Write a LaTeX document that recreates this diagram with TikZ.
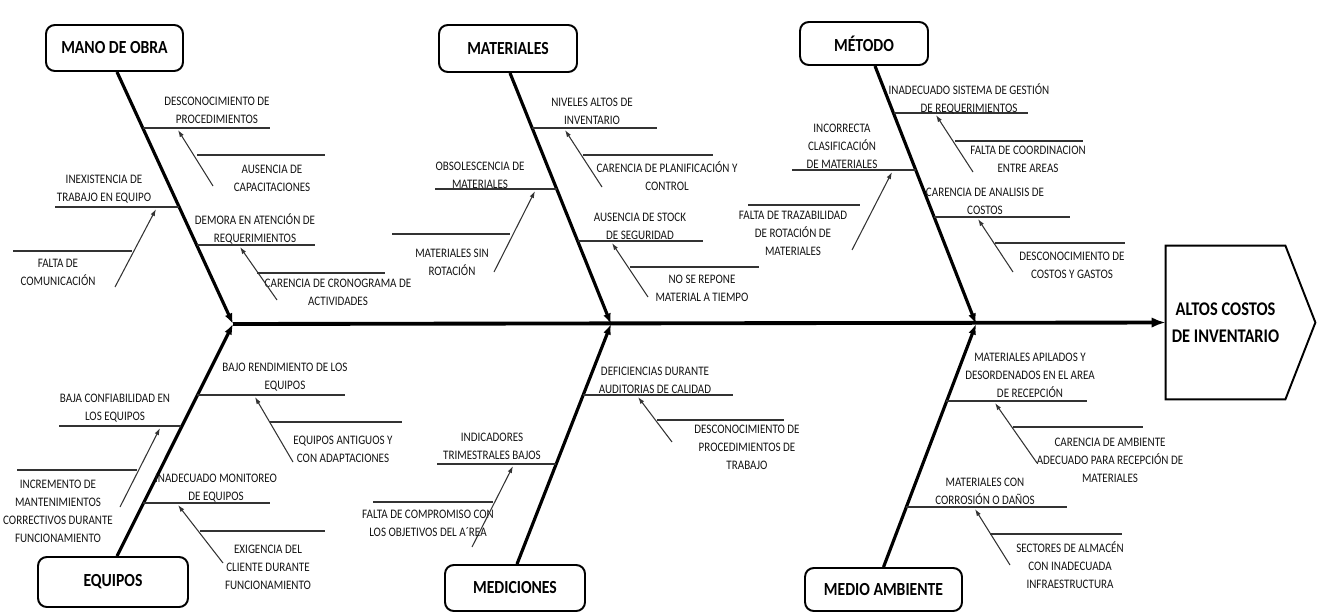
\documentclass[tikz,border=0pt]{standalone}
\usepackage{fontspec}
\setmainfont{Carlito}[FakeStretch=0.85]
\usetikzlibrary{positioning, arrows.meta}

\begin{document}
\begin{tikzpicture}[
        x=0.02cm, y=-0.02cm,
        categoria/.style={rectangle, draw=black, line width=1.1pt, rounded corners=5pt, align=center, fill=white, font=\fontsize{10.5}{12}\selectfont\bfseries},
        texto/.style={align=center, inner sep=0pt, text=black!92, font=\fontsize{7.4}{10.2}\selectfont},
        causa/.style={draw=black!80, line width=0.7pt},
        espina/.style={draw=black, line width=1.8pt, -{Latex[length=6pt, width=4.5pt]}},
        subflecha/.style={draw=black!80, line width=0.6pt, -{Latex[length=4pt, width=2.6pt]}}
    ]
    \useasboundingbox (0,0) rectangle (1317,612);

    % CATEGORÍAS
    \node[categoria, minimum width=2.74cm, minimum height=0.92cm] (mano) at (114.5,48) {MANO DE OBRA};
    \node[categoria, minimum width=2.76cm, minimum height=0.94cm] (mate) at (508,48.5) {MATERIALES};
    \node[categoria, minimum width=2.56cm, minimum height=0.86cm] (meto) at (864,43.5) {MÉTODO};
    \node[categoria, minimum width=3cm, minimum height=1cm] (equi) at (113,582) {EQUIPOS};
    \node[categoria, minimum width=2.8cm, minimum height=0.92cm] (medi) at (515,588) {MEDICIONES};
    \node[categoria, minimum width=3.14cm, minimum height=0.86cm] (ambi) at (883.5,589.5) {MEDIO AMBIENTE};

    % EFECTO
    \node[rectangle, minimum width=2.26cm, minimum height=3.06cm, align=center, font=\fontsize{11}{15.5}\selectfont\bfseries] (efecto) at (1225.5,322.5) {ALTOS COSTOS\\DE INVENTARIO};
    \draw[line width=1.1pt, line join=miter] (efecto.north east) -- (efecto.north west) -- (efecto.south west) -- (efecto.south east) -- ([xshift=0.6cm]efecto.east) -- cycle;

    % Espina central
    \coordinate (nudo1) at (233,324);
    \coordinate (nudo2) at (611,324);
    \coordinate (nudo3) at (976,324);
    \draw[line width=2.2pt, -{Latex[length=8pt, width=6pt]}] (nudo1) -- (efecto.west);
    \draw[espina] ([xshift=0.05cm]mano.south) -- (nudo1);
    \draw[espina] ([xshift=0.04cm]mate.south) -- (nudo2);
    \draw[espina] ([xshift=0.22cm]meto.south) -- (nudo3);
    \draw[espina] ([xshift=0.08cm]equi.north) -- (nudo1);
    \draw[espina] ([xshift=0.04cm]medi.north) -- (nudo2);
    \draw[espina] (ambi.north) -- (nudo3);

    % MANO DE OBRA
    \coordinate (desc-a) at (143,128); \coordinate (desc-b) at (270,128);
    \draw[causa] (desc-a) -- (desc-b);
    \node[texto] (desc) at (217,110) {DESCONOCIMIENTO DE\\PROCEDIMIENTOS};
    \coordinate (ausc-a) at (197,155); \coordinate (ausc-b) at (325,155);
    \coordinate (ausc-f) at (213,186); \coordinate (ausc-p) at (178,130);
    \draw[causa] (ausc-a) -- (ausc-b);
    \node[texto] (ausc) at (272,178) {AUSENCIA DE\\CAPACITACIONES};
    \draw[subflecha] (ausc-f) -- (ausc-p);
    \coordinate (demo-a) at (197,245); \coordinate (demo-b) at (315,245);
    \draw[causa] (demo-a) -- (demo-b);
    \node[texto] (demo) at (255,229) {DEMORA EN ATENCIÓN DE\\REQUERIMIENTOS};
    \coordinate (cron-a) at (257,273); \coordinate (cron-b) at (385,273);
    \coordinate (cron-f) at (277,300); \coordinate (cron-p) at (240,247);
    \draw[causa] (cron-a) -- (cron-b);
    \node[texto] (cron) at (338,292) {CARENCIA DE CRONOGRAMA DE\\ACTIVIDADES};
    \draw[subflecha] (cron-f) -- (cron-p);
    \coordinate (inex-a) at (55,207); \coordinate (inex-b) at (179,207);
    \draw[causa] (inex-a) -- (inex-b);
    \node[texto] (inex) at (104,189) {INEXISTENCIA DE\\TRABAJO EN EQUIPO};
    \coordinate (comu-a) at (13,251); \coordinate (comu-b) at (132,251);
    \coordinate (comu-f) at (115,287); \coordinate (comu-p) at (156,209);
    \draw[causa] (comu-a) -- (comu-b);
    \node[texto] (comu) at (58,272) {FALTA DE\\COMUNICACIÓN};
    \draw[subflecha] (comu-f) -- (comu-p);

    % MATERIALES
    \coordinate (nive-a) at (532,128); \coordinate (nive-b) at (657,128);
    \draw[causa] (nive-a) -- (nive-b);
    \node[texto] (nive) at (592,111) {NIVELES ALTOS DE\\INVENTARIO};
    \coordinate (plan-a) at (583,155); \coordinate (plan-b) at (713,155);
    \coordinate (plan-f) at (602,187); \coordinate (plan-p) at (565,130);
    \draw[causa] (plan-a) -- (plan-b);
    \node[texto] (plan) at (667,176) {CARENCIA DE PLANIFICACIÓN Y\\CONTROL};
    \draw[subflecha] (plan-f) -- (plan-p);
    \coordinate (stoc-a) at (578,241); \coordinate (stoc-b) at (703,241);
    \draw[causa] (stoc-a) -- (stoc-b);
    \node[texto] (stoc) at (640,226) {AUSENCIA DE STOCK\\DE SEGURIDAD};
    \coordinate (repo-a) at (630,267); \coordinate (repo-b) at (759,267);
    \coordinate (repo-f) at (648,297); \coordinate (repo-p) at (612,243);
    \draw[causa] (repo-a) -- (repo-b);
    \node[texto] (repo) at (702,288) {NO SE REPONE\\MATERIAL A TIEMPO};
    \draw[subflecha] (repo-f) -- (repo-p);
    \coordinate (obso-a) at (435,189); \coordinate (obso-b) at (557,189);
    \draw[causa] (obso-a) -- (obso-b);
    \node[texto] (obso) at (480,175) {OBSOLESCENCIA DE\\MATERIALES};
    \coordinate (rota-a) at (392,234); \coordinate (rota-b) at (510,234);
    \coordinate (rota-f) at (494,272); \coordinate (rota-p) at (535,191);
    \draw[causa] (rota-a) -- (rota-b);
    \node[texto] (rota) at (452,262) {MATERIALES SIN\\ROTACIÓN};
    \draw[subflecha] (rota-f) -- (rota-p);

    % MÉTODO
    \coordinate (gest-a) at (894,113); \coordinate (gest-b) at (1028,113);
    \draw[causa] (gest-a) -- (gest-b);
    \node[texto] (gest) at (969,99) {INADECUADO SISTEMA DE GESTIÓN\\DE REQUERIMIENTOS};
    \coordinate (coor-a) at (955,141); \coordinate (coor-b) at (1083,141);
    \coordinate (coor-f) at (973,172); \coordinate (coor-p) at (936,115);
    \draw[causa] (coor-a) -- (coor-b);
    \node[texto] (coor) at (1028,159) {FALTA DE COORDINACION\\ENTRE AREAS};
    \draw[subflecha] (coor-f) -- (coor-p);
    \coordinate (anal-a) at (934,217); \coordinate (anal-b) at (1070,217);
    \draw[causa] (anal-a) -- (anal-b);
    \node[texto] (anal) at (985,201) {CARENCIA DE ANALISIS DE\\COSTOS};
    \coordinate (gast-a) at (995,243); \coordinate (gast-b) at (1125,243);
    \coordinate (gast-f) at (1013,272); \coordinate (gast-p) at (978,219);
    \draw[causa] (gast-a) -- (gast-b);
    \node[texto] (gast) at (1072,265) {DESCONOCIMIENTO DE\\COSTOS Y GASTOS};
    \draw[subflecha] (gast-f) -- (gast-p);
    \coordinate (clas-a) at (792,170); \coordinate (clas-b) at (916,170);
    \draw[causa] (clas-a) -- (clas-b);
    \node[texto] (clas) at (842,146) {INCORRECTA\\CLASIFICACIÓN\\DE MATERIALES};
    \coordinate (traz-a) at (748,205); \coordinate (traz-b) at (860,205);
    \coordinate (traz-f) at (852,250); \coordinate (traz-p) at (892,172);
    \draw[causa] (traz-a) -- (traz-b);
    \node[texto] (traz) at (793,233) {FALTA DE TRAZABILIDAD\\DE ROTACIÓN DE\\MATERIALES};
    \draw[subflecha] (traz-f) -- (traz-p);

    % EQUIPOS
    \coordinate (rend-a) at (197,395); \coordinate (rend-b) at (345,395);
    \draw[causa] (rend-a) -- (rend-b);
    \node[texto] (rend) at (285,377) {BAJO RENDIMIENTO DE LOS\\EQUIPOS};
    \coordinate (anti-a) at (270,422); \coordinate (anti-b) at (402,422);
    \coordinate (anti-f) at (293,462); \coordinate (anti-p) at (255,397);
    \draw[causa] (anti-a) -- (anti-b);
    \node[texto] (anti) at (343,449) {EQUIPOS ANTIGUOS Y\\CON ADAPTACIONES};
    \draw[subflecha] (anti-f) -- (anti-p);
    \coordinate (moni-a) at (143,503); \coordinate (moni-b) at (270,503);
    \draw[causa] (moni-a) -- (moni-b);
    \node[texto] (moni) at (216,488) {INADECUADO MONITOREO\\DE EQUIPOS};
    \coordinate (exig-a) at (200,531); \coordinate (exig-b) at (325,531);
    \coordinate (exig-f) at (223,563); \coordinate (exig-p) at (178,505);
    \draw[causa] (exig-a) -- (exig-b);
    \node[texto] (exig) at (268,567) {EXIGENCIA DEL\\CLIENTE DURANTE\\FUNCIONAMIENTO};
    \draw[subflecha] (exig-f) -- (exig-p);
    \coordinate (conf-a) at (59,426); \coordinate (conf-b) at (181,426);
    \draw[causa] (conf-a) -- (conf-b);
    \node[texto] (conf) at (115,408) {BAJA CONFIABILIDAD EN\\LOS EQUIPOS};
    \coordinate (mant-a) at (17,470); \coordinate (mant-b) at (137,470);
    \coordinate (mant-f) at (120,507); \coordinate (mant-p) at (160,428);
    \draw[causa] (mant-a) -- (mant-b);
    \node[texto] (mant) at (58,511) {INCREMENTO DE\\MANTENIMIENTOS\\CORRECTIVOS DURANTE\\FUNCIONAMIENTO};
    \draw[subflecha] (mant-f) -- (mant-p);

    % MEDICIONES
    \coordinate (audi-a) at (583,395); \coordinate (audi-b) at (733,395);
    \draw[causa] (audi-a) -- (audi-b);
    \node[texto] (audi) at (655,380) {DEFICIENCIAS DURANTE\\AUDITORIAS DE CALIDAD};
    \coordinate (proc-a) at (657,420); \coordinate (proc-b) at (784,420);
    \coordinate (proc-f) at (672,442); \coordinate (proc-p) at (638,397);
    \draw[causa] (proc-a) -- (proc-b);
    \node[texto] (proc) at (747,447) {DESCONOCIMIENTO DE\\PROCEDIMIENTOS DE\\TRABAJO};
    \draw[subflecha] (proc-f) -- (proc-p);
    \coordinate (indi-a) at (437,464); \coordinate (indi-b) at (556,464);
    \draw[causa] (indi-a) -- (indi-b);
    \node[texto] (indi) at (492,446) {INDICADORES\\TRIMESTRALES BAJOS};
    \coordinate (comp-a) at (373,502); \coordinate (comp-b) at (493,502);
    \coordinate (comp-f) at (472,547); \coordinate (comp-p) at (513,466);
    \draw[causa] (comp-a) -- (comp-b);
    \node[texto] (comp) at (428,523) {FALTA DE COMPROMISO CON\\LOS OBJETIVOS DEL A´REA};
    \draw[subflecha] (comp-f) -- (comp-p);

    % MEDIO AMBIENTE
    \coordinate (apil-a) at (946,401); \coordinate (apil-b) at (1087,401);
    \draw[causa] (apil-a) -- (apil-b);
    \node[texto] (apil) at (1030,375) {MATERIALES APILADOS Y\\DESORDENADOS EN EL AREA\\DE RECEPCIÓN};
    \coordinate (recp-a) at (1013,427); \coordinate (recp-b) at (1143,427);
    \coordinate (recp-f) at (1037,463); \coordinate (recp-p) at (995,403);
    \draw[causa] (recp-a) -- (recp-b);
    \node[texto] (recp) at (1110,460) {CARENCIA DE AMBIENTE\\ADECUADO PARA RECEPCIÓN DE\\MATERIALES};
    \draw[subflecha] (recp-f) -- (recp-p);
    \coordinate (corr-a) at (906,507); \coordinate (corr-b) at (1067,507);
    \draw[causa] (corr-a) -- (corr-b);
    \node[texto] (corr) at (985,491) {MATERIALES CON\\CORROSIÓN O DAÑOS};
    \coordinate (sect-a) at (990,534); \coordinate (sect-b) at (1122,534);
    \coordinate (sect-f) at (1010,565); \coordinate (sect-p) at (975,509);
    \draw[causa] (sect-a) -- (sect-b);
    \node[texto] (sect) at (1070,565) {SECTORES DE ALMACÉN\\CON INADECUADA\\INFRAESTRUCTURA};
    \draw[subflecha] (sect-f) -- (sect-p);
\end{tikzpicture}
\end{document}
